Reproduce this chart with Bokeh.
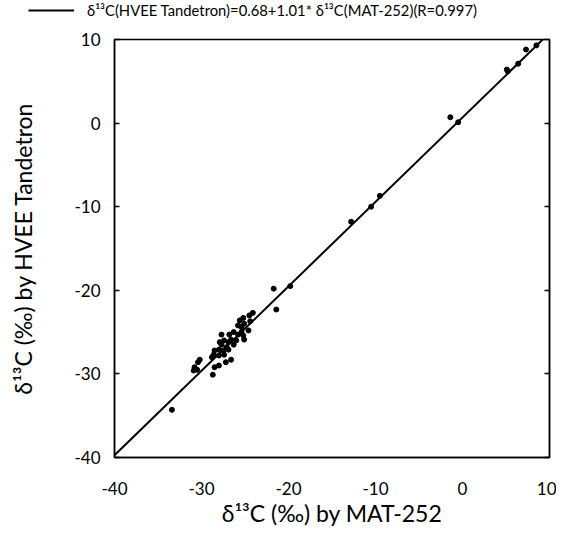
from bokeh.plotting import figure
from bokeh.models import (LinearAxis, FixedTicker, Legend, LegendItem, Range1d,
                          ColumnDataSource)
from bokeh.embed import file_html
from bokeh.resources import INLINE

# data: delta13C by MAT-252 (x) and by HVEE Tandetron (y)
mat252 = [8.5, 7.3, 6.4, 5.1, 5.2, -1.4, -0.5,
          -9.5, -10.5, -12.8, -21.7, -19.8, -21.4,
          -25.2, -24.5, -24.1, -25.6, -25.1, -24.4, -25.8, -25.4, -24.6, -26.3,
          -25.8, -25.2, -25.1, -26.8, -26.6, -26.9, -27.4, -27.9, -26.3, -27.7,
          -27.1, -28.0, -28.5, -27.5, -26.9, -28.6, -28.0, -27.4, -28.8, -26.6,
          -27.2, -28.0, -28.5, -30.2, -30.4, -30.8, -30.9, -30.5, -28.7, -27.7,
          -26.0, -25.4, -33.4]
hvee = [9.3, 8.8, 7.1, 6.4, 6.2, 0.7, 0.1,
        -8.7, -10.0, -11.8, -19.8, -19.5, -22.3,
        -23.3, -23.0, -22.7, -23.6, -24.0, -23.7, -24.2, -24.4, -24.8, -25.0,
        -25.3, -25.4, -25.9, -25.3, -25.9, -26.2, -26.0, -26.2, -26.5, -26.5,
        -26.8, -27.1, -27.2, -27.2, -27.1, -27.7, -27.8, -27.7, -28.0, -28.3,
        -28.6, -29.0, -29.2, -28.3, -28.6, -29.2, -29.6, -29.5, -30.1, -25.3,
        -26.0, -25.0, -34.3]

# regression: HVEE = a + b * MAT
fit_a = 0.68
fit_b = 1.01
fit_r = 0.997

ticks = [-40, -30, -20, -10, 0, 10]
tick_labels = ["-40", "-30", "-20", "-10", "0", "10"]
x_lim = (-40, 10)
y_lim = (-40, 10)

FONT = "Lato"
LEG_H = 30

p = figure(frame_width=435, frame_height=418,
           min_border_left=114, min_border_right=7,
           min_border_top=39 - LEG_H, min_border_bottom=64,
           x_range=Range1d(*x_lim), y_range=Range1d(*y_lim),
           output_backend="svg", toolbar_location=None,
           x_axis_label="δ¹³C (‰) by MAT-252",
           y_axis_label="δ¹³C (‰) by HVEE Tandetron")
p.background_fill_color = "white"
p.border_fill_color = "white"
p.grid.visible = False
p.outline_line_color = "black"
p.outline_line_width = 1.5

overrides = {t: s for t, s in zip(ticks, tick_labels)}
for ax in (p.xaxis[0], p.yaxis[0]):
    ax.ticker = FixedTicker(ticks=ticks)
    ax.major_label_overrides = overrides
    ax.axis_line_width = 1.5
    ax.axis_line_color = "black"
    ax.major_tick_line_color = "black"
    ax.major_tick_line_width = 1.5
    ax.minor_tick_line_color = None
    ax.major_tick_out = 0
    ax.major_label_text_font = FONT
    ax.major_label_text_font_size = "17px"
    ax.major_label_text_color = "black"
    ax.axis_label_text_font = FONT
    ax.axis_label_text_font_size = "23px"
    ax.axis_label_text_font_style = "normal"
    ax.axis_label_text_color = "black"

p.yaxis[0].major_tick_in = 5
p.yaxis[0].major_label_standoff = 14
p.yaxis[0].axis_label_standoff = 34
p.xaxis[0].major_tick_in = 0
p.xaxis[0].major_label_standoff = 24
p.xaxis[0].axis_label_standoff = 1

right = LinearAxis(ticker=FixedTicker(ticks=ticks), major_tick_in=5,
                   major_tick_out=0, minor_tick_line_color=None,
                   major_label_text_alpha=0, major_label_text_font_size="1px",
                   axis_line_width=1.5, major_tick_line_width=1.5)
p.add_layout(right, "right")

# regression line across the x range
fx = [x_lim[0], x_lim[1]]
fy = [fit_a + fit_b * v for v in fx]
p.line(fx, fy, line_color="black", line_width=2)

src = ColumnDataSource(dict(x=mat252, y=hvee))
p.scatter("x", "y", source=src, size=5, color="black")

# legend strip above the plot; its key renderer is the same fit line,
# kept outside this strip's view so that only the legend entry shows
leg = figure(width=556, height=LEG_H, min_border=0,
             x_range=Range1d(100, 101), y_range=Range1d(100, 101),
             x_axis_type=None, y_axis_type=None,
             output_backend="svg", toolbar_location=None)
leg.grid.visible = False
leg.outline_line_color = None
key = leg.line(fx, fy, line_color="black", line_width=2)

label = ("δ¹³C(HVEE Tandetron)=%.2f+%.2f* δ¹³C(MAT-252)(R=%.3f)"
         % (fit_a, fit_b, fit_r))
legend = Legend(items=[LegendItem(label=label, renderers=[key])],
                location=(28, 11), orientation="horizontal",
                glyph_width=46, glyph_height=14, label_standoff=13,
                padding=2, margin=0, border_line_color=None,
                background_fill_alpha=0,
                label_text_font=FONT, label_text_font_size="14.8px",
                label_text_color="black")
leg.add_layout(legend, "center")

open("out.html", "w").write(file_html([leg, p], INLINE))
